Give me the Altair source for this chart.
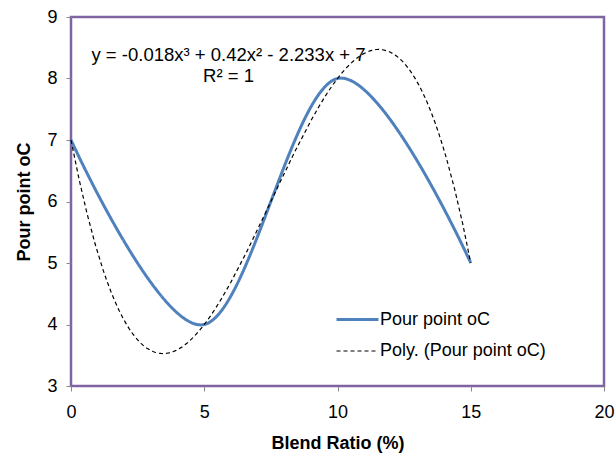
import altair as alt
import pandas as pd

# Measured pour point at each blend ratio
blend_ratio = [0, 5, 10, 15]
pour_point = [7, 4, 8, 5]

series_names = ["Pour point oC", "Poly. (Pour point oC)"]
series_colors = ["#4F81BD", "#000000"]
series_dashes = [[1, 0], [4, 3]]
series_widths = [3, 1.2]

x_ticks = [0, 5, 10, 15, 20]
y_ticks = [3, 4, 5, 6, 7, 8, 9]

equation_lines = ["y = -0.018x³ + 0.42x² - 2.233x + 7", "R² = 1"]

df = pd.DataFrame({
    "Blend": blend_ratio,
    "Pour": pour_point,
    "series": [series_names[0]] * len(blend_ratio),
})

FONT = "Liberation Sans"

x_enc = alt.X(
    "Blend:Q",
    scale=alt.Scale(domain=[0, 20], nice=False),
    axis=alt.Axis(values=x_ticks, format="d", title="Blend Ratio (%)", grid=False, domain=False,
                  labelFlush=False, tickColor="#888888", tickSize=5, labelPadding=12,
                  titlePadding=13),
)
y_enc = alt.Y(
    "Pour:Q",
    scale=alt.Scale(domain=[3, 9], nice=False, zero=False),
    axis=alt.Axis(values=y_ticks, format="d", title="Pour point  oC", grid=False, domain=False,
                  tickColor="#888888", tickSize=5, labelPadding=9, titlePadding=13),
)
color_enc = alt.Color(
    "series:N",
    scale=alt.Scale(domain=series_names, range=series_colors),
    legend=alt.Legend(
        title=None, orient="none", legendX=264, legendY=280, padding=0,
        symbolType="stroke", symbolSize=1764, labelFontSize=18, labelFont=FONT,
        labelColor="#000000", labelOffset=0, rowPadding=0, symbolStrokeWidth=2,
        labelLimit=400,
    ),
)
dash_enc = alt.StrokeDash("series:N", scale=alt.Scale(domain=series_names, range=series_dashes), title=None)
width_enc = alt.StrokeWidth("series:N", scale=alt.Scale(domain=series_names, range=series_widths), title=None)

# Smoothed line through the measurements
measured = alt.Chart(df).mark_line(interpolate="cardinal").encode(
    x=x_enc, y=y_enc, color=color_enc, strokeDash=dash_enc, strokeWidth=width_enc,
)

# Third-order polynomial trendline fitted to the same points
trend = (
    alt.Chart(df)
    .transform_regression("Blend", "Pour", method="poly", order=3, extent=[0, 15])
    .transform_calculate(series=f"'{series_names[1]}'")
    .mark_line()
    .encode(x=x_enc, y=y_enc, color=color_enc, strokeDash=dash_enc, strokeWidth=width_enc)
)

# Trendline equation label, two centred lines in one text mark
equation = alt.Chart(pd.DataFrame({"label": ["\n".join(equation_lines)]})).mark_text(
    font=FONT, fontSize=18.5, fontWeight="normal", color="#000000",
    lineBreak="\n", lineHeight=20.5, align="center", baseline="middle",
).encode(x=alt.datum(5.91), y=alt.datum(8.38), text="label:N")

chart = (
    alt.layer(measured, trend, equation)
    .properties(
        width=533, height=369,
        padding={"left": 71, "top": 17, "right": 12, "bottom": 71},
        autosize=alt.AutoSizeParams(type="none"),
        background="#FFFFFF",
    )
    .configure_view(stroke="#8064A2", strokeWidth=2.5)
    .configure_axis(
        labelFont=FONT, labelFontSize=18, labelColor="#000000",
        titleFont=FONT, titleFontSize=18, titleFontWeight="bold", titleColor="#000000",
    )
)

chart.save("out.html", embed_options={"renderer": "svg", "actions": False})
